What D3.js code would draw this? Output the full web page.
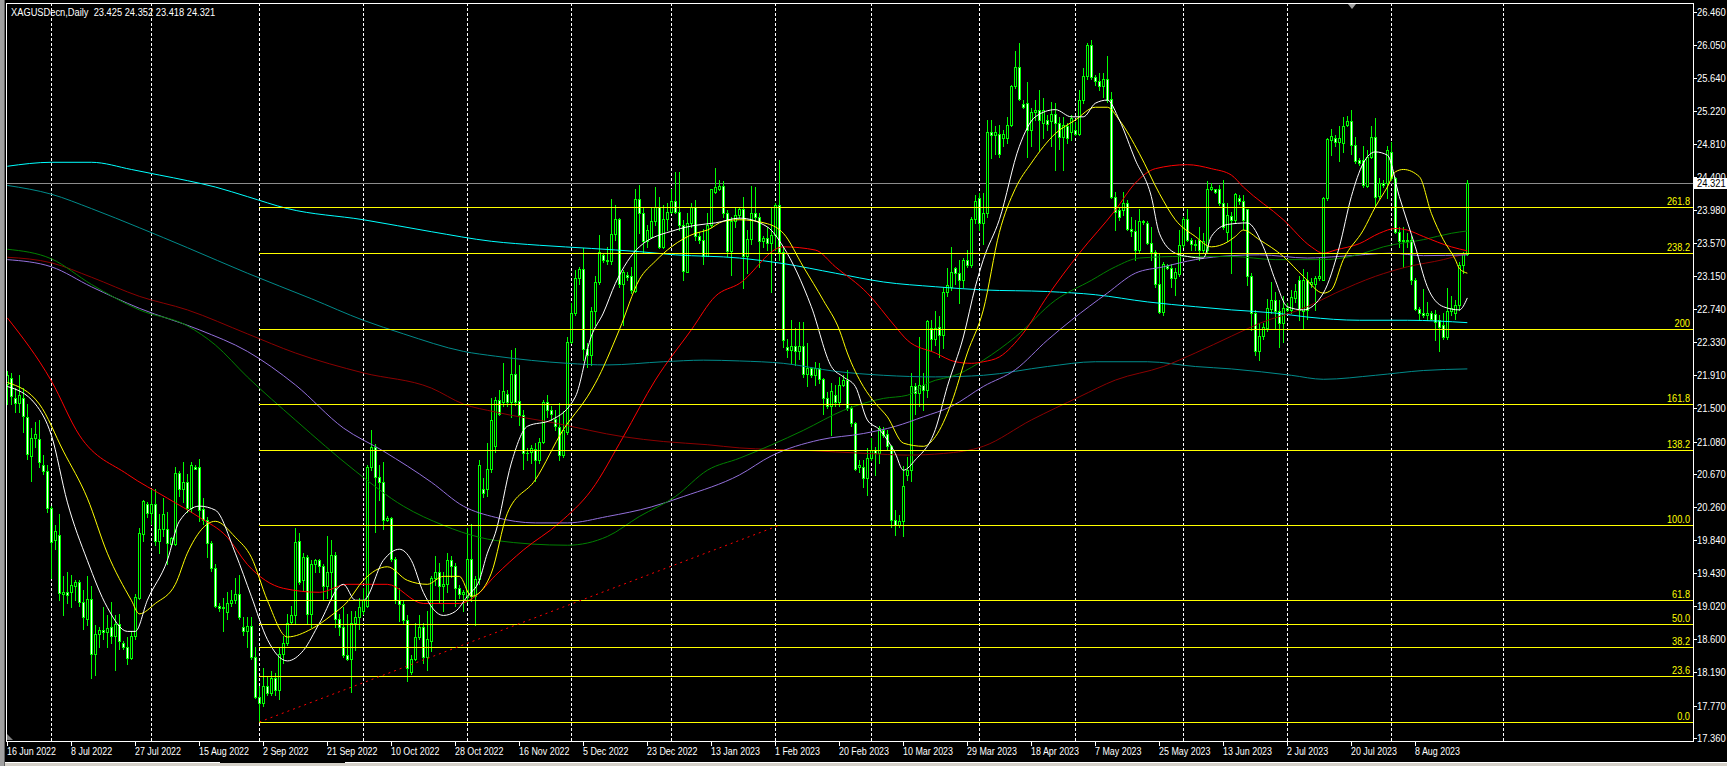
<!DOCTYPE html>
<html>
<head>
<meta charset="utf-8">
<title>XAGUSDecn,Daily</title>
<script src="https://d3js.org/d3.v7.min.js"></script>
<style>
  html, body { margin: 0; padding: 0; background: #000; overflow: hidden; }
  svg { display: block; font-family: 'Liberation Sans', Arial, sans-serif; }
</style>
</head>
<body>
<script>
'use strict';

(function() {

  const symbol = "XAGUSDecn,Daily";
  const lastQuote = ["23.425", "24.352", "23.418", "24.321"];
  const lastPrice = 24.321;

  // bar numbers (first visible bar = 1) where the date labels and month grid lines sit
  const labelBars = [1, 17, 33, 49, 65, 81, 97, 113, 129, 145, 161, 177, 193, 209, 225, 241, 257, 273, 289, 305, 321, 337, 353];
  const dateLabels = ["16 Jun 2022", "8 Jul 2022", "27 Jul 2022", "15 Aug 2022", "2 Sep 2022", "21 Sep 2022",
    "10 Oct 2022", "28 Oct 2022", "16 Nov 2022", "5 Dec 2022", "23 Dec 2022", "13 Jan 2023", "1 Feb 2023",
    "20 Feb 2023", "10 Mar 2023", "29 Mar 2023", "18 Apr 2023", "7 May 2023", "25 May 2023", "13 Jun 2023",
    "2 Jul 2023", "20 Jul 2023", "8 Aug 2023"];
  const gridBars = [12, 37, 64, 90, 116, 142, 167, 193, 217, 244, 268, 295, 321, 347, 375];

  const priceTicks = [26.460, 26.050, 25.640, 25.220, 24.810, 24.400, 23.980, 23.570, 23.150, 22.740, 22.330,
    21.910, 21.500, 21.080, 20.670, 20.260, 19.840, 19.430, 19.020, 18.600, 18.190, 17.770, 17.360];

  // fibonacci object: levels and the prices they sit on
  const fiboLabels = ["0.0", "23.6", "38.2", "50.0", "61.8", "100.0", "138.2", "161.8", "200", "238.2", "261.8"];
  const fiboPrices = [17.564, 18.146, 18.506, 18.797, 19.088, 20.030, 20.972, 21.554, 22.496, 23.438, 24.020];
  const fiboStartBar = 64;
  const trendLine = [[64, 17.564], [194, 20.030]];

  const barOpen = [
    21.80, 21.88, 21.62, 21.56, 21.63, 21.39, 20.90, 21.12, 21.11, 20.78,
    20.71, 20.25, 19.85, 19.91, 19.17, 19.19, 19.19, 19.27, 19.32, 19.07,
    18.86, 19.11, 18.42, 18.67, 18.72, 18.69, 18.75, 18.64, 18.79, 18.55,
    18.50, 18.37, 18.64, 19.12, 19.92, 20.30, 20.19, 20.30, 19.83, 19.98,
    19.98, 19.80, 19.80, 20.69, 20.48, 20.57, 20.25, 20.76, 20.76, 20.23,
    20.10, 19.81, 19.49, 19.02, 18.99, 18.94, 19.06, 19.09, 19.17, 18.76,
    18.71, 18.77, 18.38, 17.88, 17.80, 18.02, 17.93, 18.12, 17.96, 18.42,
    18.56, 18.82, 18.90, 19.83, 19.34, 19.63, 18.92, 19.54, 19.59, 19.52,
    19.27, 19.44, 19.66, 18.85, 18.76, 18.41, 18.35, 18.80, 18.88, 18.95,
    19.02, 20.76, 21.01, 20.64, 20.57, 20.10, 20.12, 19.61, 19.09, 19.04,
    18.84, 18.19, 18.36, 18.63, 18.75, 18.38, 18.58, 19.37, 19.45, 19.27,
    19.29, 19.59, 19.52, 19.24, 19.17, 19.13, 19.61, 19.14, 19.36, 20.49,
    20.49, 20.74, 21.02, 21.60, 21.58, 21.67, 21.58, 21.93, 21.59, 21.41,
    20.94, 20.95, 20.99, 20.85, 21.08, 21.57, 21.48, 21.36, 21.26, 20.91,
    21.20, 22.33, 22.69, 23.13, 23.24, 22.24, 22.17, 22.71, 23.08, 23.42,
    23.36, 23.34, 23.68, 23.87, 23.06, 23.17, 23.15, 22.97, 24.12, 23.94,
    23.59, 23.64, 23.84, 24.02, 23.52, 23.87, 23.96, 24.10, 23.96, 23.79,
    23.21, 23.82, 24.02, 23.65, 23.61, 23.41, 23.79, 24.21, 24.25, 24.28,
    23.94, 23.47, 23.85, 23.92, 24.00, 23.40, 23.62, 23.95, 23.90, 23.59,
    23.63, 23.57, 23.67, 24.05, 23.46, 22.26, 22.23, 22.28, 22.21, 22.28,
    21.93, 22.00, 21.91, 22.00, 21.86, 21.62, 21.52, 21.66, 21.58, 21.79,
    21.85, 21.50, 21.31, 20.76, 20.76, 20.62, 20.87, 20.97, 20.94, 21.23,
    21.18, 21.02, 20.10, 20.03, 20.08, 20.66, 20.72, 21.77, 21.69, 21.79,
    21.72, 22.50, 22.37, 22.52, 22.42, 22.96, 23.02, 23.25, 23.19, 23.11,
    23.35, 23.29, 23.87, 24.13, 23.82, 23.94, 24.96, 24.92, 24.93, 24.88,
    24.88, 25.05, 25.53, 25.78, 25.31, 25.32, 24.99, 25.21, 25.24, 25.07,
    25.11, 25.10, 25.19, 25.07, 24.90, 25.04, 24.96, 24.99, 24.94, 25.36,
    25.66, 26.05, 25.65, 25.60, 25.53, 25.63, 25.37, 24.15, 23.98, 23.98,
    24.07, 23.75, 23.72, 23.48, 23.84, 23.82, 23.57, 23.46, 23.06, 22.70,
    23.28, 23.25, 23.13, 23.18, 23.54, 23.87, 23.60, 23.56, 23.60, 23.48,
    23.48, 24.25, 24.24, 24.24, 24.07, 23.70, 23.91, 23.86, 24.13, 24.10,
    23.99, 23.15, 22.69, 22.22, 22.40, 22.50, 22.74, 22.85, 22.72, 22.57,
    22.75, 22.73, 22.88, 23.11, 22.72, 23.10, 23.05, 23.06, 23.13, 23.11,
    24.13, 24.86, 24.88, 24.83, 24.82, 25.05, 25.10, 24.80, 24.61, 24.61,
    24.28, 24.65, 24.90, 24.16, 24.32, 24.32, 24.71, 24.38, 23.71, 23.59,
    23.61, 23.61, 23.10, 22.74, 22.69, 22.67, 22.69, 22.68, 22.60, 22.54,
    22.39, 22.72, 22.69, 22.79, 23.29, 23.425];

  const barHigh = [
    21.96, 21.94, 21.75, 21.91, 21.75, 21.55, 21.25, 21.33, 21.35, 20.91,
    20.79, 20.27, 20.03, 20.17, 19.39, 19.45, 19.41, 19.34, 19.34, 19.22,
    19.39, 19.27, 18.78, 18.75, 19.00, 18.90, 19.07, 18.90, 18.92, 18.58,
    18.63, 18.70, 19.17, 20.00, 20.35, 20.32, 20.49, 20.49, 20.17, 20.37,
    20.20, 19.88, 20.76, 20.71, 20.82, 20.67, 20.82, 20.79, 20.86, 20.37,
    20.13, 19.83, 19.54, 19.05, 19.12, 19.19, 19.22, 19.37, 19.41, 18.88,
    18.88, 18.88, 18.51, 18.01, 18.24, 18.13, 18.20, 18.18, 18.51, 18.64,
    18.92, 19.02, 19.99, 19.93, 19.68, 19.66, 19.59, 19.61, 19.61, 19.54,
    19.90, 19.84, 19.69, 18.92, 19.00, 18.92, 18.95, 18.95, 19.12, 19.24,
    20.79, 21.23, 21.05, 20.79, 20.82, 20.15, 20.14, 19.63, 19.24, 19.08,
    18.90, 18.40, 18.80, 18.90, 18.80, 18.96, 19.40, 19.64, 19.56, 19.44,
    19.68, 19.64, 19.56, 19.28, 19.22, 19.99, 20.05, 19.40, 20.85, 20.62,
    21.06, 21.62, 21.64, 21.73, 22.06, 21.73, 22.23, 22.25, 22.04, 21.48,
    21.00, 21.04, 21.06, 21.12, 21.60, 21.66, 21.52, 21.48, 21.56, 21.46,
    22.39, 22.81, 23.23, 23.27, 23.50, 22.31, 22.77, 23.15, 23.67, 23.44,
    23.52, 24.12, 24.05, 23.88, 23.23, 23.21, 23.27, 24.24, 24.30, 24.02,
    23.79, 24.02, 24.27, 24.15, 24.05, 24.07, 24.25, 24.46, 24.46, 23.86,
    23.94, 24.07, 24.11, 23.71, 23.75, 23.94, 24.25, 24.51, 24.36, 24.34,
    23.98, 23.89, 24.02, 24.02, 24.15, 23.73, 24.28, 24.27, 23.94, 23.65,
    23.77, 24.02, 24.07, 24.61, 23.52, 22.37, 22.60, 22.50, 22.58, 22.58,
    22.31, 22.02, 22.08, 22.06, 21.87, 21.70, 21.81, 21.79, 21.89, 21.91,
    21.98, 21.52, 21.33, 20.85, 20.85, 21.00, 21.12, 21.01, 21.27, 21.26,
    21.22, 21.04, 20.22, 20.16, 20.77, 20.89, 21.94, 21.81, 22.39, 21.94,
    22.60, 22.60, 22.71, 22.65, 23.02, 23.25, 23.52, 23.27, 23.36, 23.38,
    23.48, 23.90, 24.17, 24.19, 24.19, 25.11, 25.11, 25.03, 25.05, 24.99,
    25.15, 25.55, 25.97, 26.07, 25.36, 25.59, 25.26, 25.36, 25.49, 25.38,
    25.17, 25.34, 25.32, 25.15, 25.15, 25.07, 25.17, 25.09, 25.49, 25.76,
    26.07, 26.11, 25.67, 25.70, 25.70, 25.91, 25.46, 24.21, 24.02, 24.21,
    24.11, 23.90, 23.86, 24.00, 23.86, 23.85, 23.77, 23.48, 23.44, 23.33,
    23.31, 23.31, 23.25, 23.73, 23.90, 24.00, 23.63, 23.61, 23.77, 23.69,
    24.34, 24.32, 24.25, 24.30, 24.36, 24.07, 23.96, 24.19, 24.17, 24.17,
    24.00, 23.19, 22.73, 22.56, 22.57, 22.87, 23.08, 22.96, 22.85, 22.90,
    22.81, 22.98, 23.06, 23.15, 23.24, 23.21, 23.13, 23.15, 23.38, 24.15,
    24.88, 25.00, 24.92, 25.03, 25.15, 25.16, 25.24, 24.90, 24.63, 24.78,
    24.73, 25.03, 25.13, 24.38, 24.36, 24.78, 24.84, 24.40, 23.77, 23.77,
    23.69, 23.65, 23.13, 22.77, 22.99, 22.83, 22.71, 22.73, 22.67, 22.69,
    23.00, 22.90, 22.86, 23.33, 23.46, 24.352];

  const barLow = [
    21.55, 21.55, 21.45, 21.45, 21.20, 20.86, 20.59, 21.01, 20.76, 20.67,
    20.20, 19.37, 19.73, 19.09, 18.90, 19.05, 19.00, 19.09, 19.02, 18.73,
    18.78, 18.11, 18.15, 18.51, 18.60, 18.51, 18.56, 18.21, 18.48, 18.48,
    18.29, 18.36, 18.60, 19.10, 19.83, 20.13, 20.05, 19.78, 19.68, 19.90,
    19.54, 19.78, 19.78, 20.40, 20.32, 20.20, 20.20, 20.73, 20.08, 20.05,
    19.63, 19.46, 19.00, 18.95, 18.70, 18.86, 19.02, 19.05, 18.85, 18.65,
    18.51, 18.36, 17.87, 17.56, 17.77, 17.90, 17.90, 17.90, 17.85, 18.30,
    18.53, 18.79, 18.80, 19.29, 19.22, 18.80, 18.75, 19.44, 19.44, 19.09,
    19.12, 19.09, 18.75, 18.65, 18.38, 18.34, 17.94, 18.47, 18.73, 18.92,
    19.00, 20.72, 19.95, 20.35, 19.98, 20.08, 19.58, 19.05, 18.83, 18.79,
    18.08, 18.17, 18.34, 18.60, 18.30, 18.22, 18.45, 19.28, 19.05, 18.95,
    19.20, 19.38, 19.02, 19.12, 18.95, 19.07, 19.08, 18.78, 19.30, 20.38,
    20.40, 20.70, 20.95, 21.41, 21.52, 21.52, 21.39, 21.54, 21.29, 20.74,
    20.85, 20.81, 20.58, 20.81, 21.06, 21.39, 21.35, 21.23, 20.85, 20.89,
    21.18, 22.31, 22.67, 23.06, 22.10, 22.02, 22.04, 22.54, 23.06, 23.33,
    23.31, 23.31, 23.60, 23.02, 22.54, 23.11, 22.94, 22.96, 23.69, 23.44,
    23.52, 23.63, 23.79, 23.51, 23.50, 23.73, 23.94, 23.94, 23.73, 23.11,
    23.20, 23.77, 23.61, 23.57, 23.31, 23.40, 23.77, 24.19, 24.23, 23.90,
    23.40, 23.17, 23.77, 23.88, 23.00, 23.19, 23.56, 23.86, 23.27, 23.52,
    23.48, 22.96, 23.48, 23.36, 22.27, 22.14, 22.06, 22.04, 22.12, 21.89,
    21.77, 21.89, 21.79, 21.81, 21.43, 21.50, 21.16, 21.52, 21.52, 21.77,
    21.47, 21.27, 20.72, 20.70, 20.51, 20.41, 20.85, 20.66, 20.81, 21.14,
    20.97, 20.01, 19.91, 20.01, 19.89, 20.60, 20.58, 21.43, 21.52, 21.47,
    21.64, 22.23, 22.29, 22.14, 22.25, 22.90, 22.98, 23.06, 22.81, 23.02,
    23.27, 23.27, 23.82, 23.73, 23.56, 23.90, 24.63, 24.69, 24.65, 24.78,
    24.82, 25.03, 25.51, 25.36, 25.26, 24.65, 24.78, 25.11, 24.73, 24.88,
    24.99, 24.78, 24.48, 24.75, 24.48, 24.82, 24.86, 24.92, 24.92, 25.32,
    25.63, 25.63, 25.55, 25.49, 25.40, 25.34, 24.13, 23.73, 23.86, 23.92,
    23.73, 23.65, 23.36, 23.44, 23.81, 23.56, 23.36, 23.02, 22.69, 22.67,
    23.24, 23.02, 22.92, 23.15, 23.52, 23.59, 23.48, 23.48, 23.36, 23.44,
    23.44, 24.23, 24.19, 24.05, 23.75, 23.59, 23.19, 23.82, 24.06, 23.75,
    23.04, 22.48, 22.16, 22.10, 22.37, 22.46, 22.69, 22.50, 22.27, 22.33,
    22.71, 22.69, 22.83, 22.60, 22.50, 22.62, 23.02, 22.73, 23.10, 23.10,
    24.11, 24.67, 24.78, 24.59, 24.71, 25.03, 24.69, 24.57, 24.55, 24.27,
    24.27, 24.63, 24.02, 24.13, 24.27, 24.13, 24.36, 23.69, 23.52, 23.27,
    23.52, 23.06, 22.73, 22.60, 22.645, 22.60, 22.60, 22.35, 22.21, 22.37,
    22.37, 22.67, 22.62, 22.73, 23.19, 23.418];

  const barClose = [
    21.92, 21.65, 21.56, 21.66, 21.40, 20.92, 21.12, 21.18, 20.82, 20.71,
    20.25, 19.82, 19.96, 19.18, 19.19, 19.16, 19.28, 19.32, 19.07, 18.88,
    19.11, 18.42, 18.67, 18.72, 18.69, 18.74, 18.64, 18.79, 18.58, 18.50,
    18.37, 18.64, 19.13, 19.93, 20.33, 20.19, 20.30, 19.83, 19.98, 20.17,
    19.81, 19.87, 20.69, 20.49, 20.57, 20.25, 20.79, 20.74, 20.22, 20.10,
    19.81, 19.49, 19.02, 18.99, 19.01, 19.06, 19.09, 19.17, 18.88, 18.71,
    18.77, 18.38, 17.88, 17.80, 18.02, 17.93, 18.12, 17.96, 18.42, 18.56,
    18.81, 18.91, 19.82, 19.32, 19.63, 18.92, 19.54, 19.59, 19.52, 19.27,
    19.44, 19.66, 18.85, 18.76, 18.41, 18.36, 18.80, 18.88, 19.01, 19.09,
    20.76, 21.01, 20.64, 20.57, 20.10, 20.12, 19.61, 19.09, 19.04, 18.84,
    18.24, 18.36, 18.63, 18.75, 18.38, 18.60, 19.37, 19.45, 19.27, 19.29,
    19.59, 19.52, 19.24, 19.17, 19.19, 19.61, 19.14, 19.36, 20.79, 20.43,
    20.74, 21.35, 21.60, 21.43, 21.71, 21.58, 21.93, 21.58, 21.41, 20.94,
    20.93, 21.00, 20.85, 21.08, 21.58, 21.48, 21.43, 21.27, 20.91, 21.22,
    22.33, 22.69, 23.13, 23.24, 22.24, 22.17, 22.71, 23.08, 23.46, 23.36,
    23.34, 23.68, 23.87, 23.06, 23.20, 23.14, 22.98, 24.12, 23.94, 23.59,
    23.73, 23.84, 24.02, 23.52, 23.87, 23.96, 24.10, 23.96, 23.79, 23.22,
    23.82, 24.02, 23.65, 23.61, 23.41, 23.79, 24.24, 24.27, 24.28, 23.94,
    23.47, 23.85, 23.92, 24.00, 23.40, 23.62, 23.95, 23.90, 23.59, 23.63,
    23.57, 23.67, 24.05, 23.46, 22.35, 22.23, 22.28, 22.21, 22.28, 21.93,
    22.00, 21.91, 22.00, 21.86, 21.62, 21.52, 21.71, 21.58, 21.79, 21.85,
    21.50, 21.31, 20.74, 20.78, 20.62, 20.87, 20.97, 20.93, 21.25, 21.16,
    21.02, 20.10, 20.03, 20.09, 20.52, 20.72, 21.77, 21.69, 21.79, 21.72,
    22.59, 22.37, 22.50, 22.42, 22.96, 23.04, 23.21, 23.19, 23.11, 23.35,
    23.29, 23.87, 24.09, 23.82, 23.94, 24.96, 24.92, 24.96, 24.69, 24.93,
    25.05, 25.53, 25.78, 25.37, 25.27, 24.99, 25.21, 25.24, 25.11, 25.24,
    25.06, 25.19, 25.07, 24.90, 25.05, 24.89, 25.14, 24.94, 25.36, 25.66,
    26.05, 25.65, 25.60, 25.53, 25.62, 25.36, 24.15, 23.96, 23.90, 24.07,
    23.75, 23.72, 23.48, 23.84, 23.83, 23.57, 23.46, 23.06, 22.70, 23.31,
    23.25, 23.13, 23.21, 23.54, 23.87, 23.61, 23.56, 23.54, 23.48, 23.59,
    24.25, 24.27, 24.21, 24.07, 23.77, 23.92, 23.86, 24.18, 24.10, 23.86,
    23.15, 22.69, 22.22, 22.40, 22.51, 22.75, 22.85, 22.72, 22.57, 22.75,
    22.73, 22.89, 22.97, 22.73, 23.11, 22.73, 23.08, 23.13, 23.16, 24.13,
    24.87, 24.91, 24.83, 24.88, 25.03, 25.10, 24.80, 24.59, 24.57, 24.30,
    24.65, 24.90, 24.15, 24.32, 24.30, 24.73, 24.38, 23.71, 23.59, 23.61,
    23.59, 23.10, 22.74, 22.69, 22.67, 22.69, 22.62, 22.58, 22.52, 22.39,
    22.72, 22.75, 22.79, 23.29, 23.44, 24.321];

  // moving averages as [bar, price]
  const maWhite = [[1,21.77],[8,21.55],[12,21.16],[16,20.32],[21,19.59],[26,19.00],[31,18.70],[33,18.70],[36,19.09],
    [41,19.59],[44,20.08],[49,20.27],[53,20.22],[58,19.68],[62,19.14],[66,18.60],[71,18.33],[75,18.46],[79,18.80],
    [85,19.29],[88,19.09],[90,19.09],[95,19.59],[99,19.73],[102,19.59],[105,19.19],[110,18.90],[113,18.95],[116,19.14],
    [119,19.34],[121,19.68],[123,19.93],[127,20.81],[131,21.27],[137,21.35],[143,21.64],[147,22.40],[150,22.69],
    [153,23.06],[159,23.52],[168,23.73],[173,23.79],[178,23.82],[184,23.88],[191,23.77],[195,23.52],[202,22.77],
    [207,22.02],[210,21.89],[213,21.77],[216,21.35],[219,21.23],[223,20.93],[225,20.72],[228,20.85],[233,21.23],
    [236,21.77],[240,22.39],[243,23.02],[245,23.36],[249,23.86],[254,24.78],[258,25.15],[263,25.24],[267,25.15],
    [270,25.15],[273,25.32],[276,25.36],[279,25.11],[283,24.61],[287,24.15],[289,23.69],[293,23.44],[296,23.40],
    [300,23.38],[302,23.65],[306,23.80],[311,23.82],[315,23.52],[318,23.10],[321,22.77],[325,22.73],[330,22.94],
    [334,23.52],[337,24.15],[340,24.57],[343,24.71],[346,24.67],[349,24.15],[353,23.52],[356,23.02],[360,22.77],
    [364,22.73],[366,22.88]];

  const maYellow = [[1,21.82],[9,21.55],[15,20.96],[21,20.37],[26,19.68],[32,19.09],[34,18.92],[38,19.05],[43,19.29],
    [46,19.68],[53,20.08],[58,19.88],[62,19.63],[66,19.09],[71,18.63],[77,18.73],[82,18.90],[86,19.07],[90,19.34],
    [96,19.51],[101,19.34],[106,19.29],[110,19.39],[114,19.39],[117,19.14],[120,19.24],[122,19.43],[126,20.18],
    [133,20.60],[140,21.23],[146,21.64],[148,21.81],[154,22.48],[159,23.11],[163,23.34],[167,23.52],[173,23.69],
    [176,23.73],[180,23.84],[184,23.86],[191,23.81],[195,23.69],[200,23.27],[205,22.85],[209,22.48],[211,22.19],
    [215,21.77],[218,21.56],[221,21.39],[225,21.06],[230,21.02],[233,21.14],[237,21.56],[241,22.19],[245,22.73],
    [249,23.70],[253,24.25],[257,24.57],[263,24.94],[268,25.11],[273,25.27],[276,25.27],[279,25.11],[284,24.69],
    [289,24.19],[293,23.86],[298,23.65],[302,23.52],[306,23.58],[308,23.65],[310,23.73],[314,23.61],[320,23.40],
    [325,23.15],[330,22.94],[332,22.98],[335,23.36],[340,23.73],[343,24.02],[346,24.27],[348,24.46],[350,24.49],
    [354,24.40],[357,23.94],[360,23.61],[363,23.36],[364,23.25],[366,23.19]];

  const maRed = [[1,22.63],[12,21.84],[19,21.16],[31,20.67],[41,20.37],[49,20.13],[56,19.88],[61,19.54],[70,19.24],
    [79,19.19],[86,19.29],[96,19.29],[105,19.05],[114,19.05],[118,19.14],[123,19.40],[130,19.72],[139,20.06],
    [147,20.47],[155,21.14],[163,21.85],[172,22.48],[178,22.90],[184,23.06],[195,23.52],[203,23.48],[208,23.27],
    [216,22.94],[223,22.52],[226,22.35],[233,22.19],[238,22.08],[242,22.06],[245,22.08],[249,22.14],[255,22.44],
    [261,22.90],[269,23.44],[278,23.98],[283,24.32],[288,24.50],[296,24.55],[302,24.50],[307,24.42],[310,24.27],
    [320,23.86],[327,23.52],[330,23.44],[333,23.48],[339,23.56],[344,23.69],[348,23.75],[351,23.73],[355,23.65],
    [362,23.52],[366,23.47]];

  const maGreen = [[1,23.49],[12,23.37],[22,23.05],[34,22.73],[46,22.53],[53,22.29],[61,21.89],[73,21.35],[88,20.71],
    [100,20.27],[110,20.03],[119,19.88],[123,19.84],[141,19.78],[151,19.89],[159,20.14],[168,20.39],[176,20.72],
    [184,20.87],[200,21.22],[210,21.47],[220,21.62],[226,21.66],[231,21.81],[239,21.93],[245,22.10],[253,22.39],
    [263,22.85],[272,23.10],[278,23.27],[284,23.38],[295,23.40],[307,23.40],[318,23.36],[330,23.36],[340,23.44],
    [345,23.52],[355,23.61],[362,23.69],[366,23.72]];

  const maPurple = [[1,23.36],[12,23.27],[22,23.02],[34,22.75],[49,22.48],[61,22.21],[73,21.79],[85,21.25],[95,20.96],
    [107,20.57],[115,20.27],[123,20.13],[133,20.06],[141,20.06],[151,20.14],[162,20.26],[170,20.39],[184,20.66],
    [192,20.90],[204,21.10],[215,21.18],[223,21.27],[230,21.39],[237,21.52],[245,21.77],[253,21.98],[261,22.35],
    [267,22.60],[276,22.94],[283,23.19],[290,23.27],[298,23.36],[307,23.41],[314,23.42],[326,23.38],[334,23.40],
    [347,23.44],[355,23.41],[366,23.42]];

  const maMaroon = [[1,23.39],[12,23.32],[22,23.14],[34,22.90],[46,22.73],[61,22.43],[73,22.19],[90,21.94],[107,21.75],
    [115,21.55],[123,21.45],[138,21.31],[155,21.14],[165,21.08],[176,21.04],[184,21.00],[200,20.97],[216,20.93],
    [226,20.91],[235,20.93],[245,21.02],[257,21.35],[269,21.64],[278,21.85],[290,22.02],[298,22.19],[307,22.40],
    [314,22.56],[326,22.77],[333,22.94],[343,23.15],[351,23.27],[360,23.36],[366,23.44]];

  const maTeal = [[1,24.29],[12,24.18],[22,24.00],[34,23.76],[46,23.51],[61,23.19],[77,22.87],[90,22.60],[100,22.43],
    [115,22.21],[123,22.15],[141,22.06],[151,22.04],[165,22.08],[175,22.10],[184,22.09],[195,22.06],[208,21.96],
    [220,21.91],[233,21.89],[245,21.91],[261,22.02],[273,22.08],[286,22.08],[298,22.02],[307,21.99],[322,21.91],
    [330,21.86],[343,21.91],[355,21.97],[366,21.99]];

  const maCyan = [[1,24.53],[12,24.58],[22,24.58],[32,24.49],[39,24.42],[46,24.35],[53,24.27],[61,24.15],[71,24.00],
    [90,23.86],[107,23.71],[122,23.59],[134,23.54],[147,23.50],[159,23.46],[168,23.42],[184,23.38],[195,23.31],
    [208,23.19],[220,23.08],[233,23.02],[245,22.98],[261,22.96],[273,22.92],[286,22.83],[298,22.77],[307,22.73],
    [318,22.69],[326,22.64],[339,22.60],[351,22.60],[366,22.57]];

  const W = 1727, H = 766;
  const plot = { left: 6, right: 1693, top: 3, bottom: 741 };

  let svg = "";
  let chart = "";

  window.onload = function() {
    svg = d3.select('body')
      .append('svg')
      .attr('width', W)
      .attr('height', H);

    let x = d3.scaleLinear()
      .domain([1, 366])
      .range([7.33, 1467.33]);
    let y = d3.scaleLinear()
      .domain([17.36, 26.46])
      .range([738.3, 12.3]);

    drawFrame();

    svg.append('clipPath')
      .attr('id', 'plotClip')
      .append('rect')
      .attr('x', plot.left + 1)
      .attr('y', plot.top + 1)
      .attr('width', plot.right - plot.left - 1)
      .attr('height', plot.bottom - plot.top - 1);

    chart = svg.append('g').attr('clip-path', 'url(#plotClip)');

    drawGrid(x, y);
    plotCandles(x, y);
    drawAverages(x, y);
    drawFibo(x, y);
    drawAxes(x, y);
    makeLabels();
  }

  // squeeze text horizontally, the terminal font is narrower than ours
  function condense(sel, factor) {
    sel.each(function() {
      let w = this.getComputedTextLength();
      d3.select(this)
        .attr('textLength', (w * factor).toFixed(1))
        .attr('lengthAdjust', 'spacingAndGlyphs');
    });
  }

  function drawFrame() {
    svg.append('rect')
      .attr('width', W).attr('height', H)
      .attr('fill', '#000');
    // window edge on the left
    svg.append('rect')
      .attr('x', 0).attr('y', 0).attr('width', 4).attr('height', H)
      .attr('fill', '#a0a0a0');
    svg.append('rect')
      .attr('x', 4).attr('y', 0).attr('width', 1).attr('height', H)
      .attr('fill', '#606060');

    let border = [
      [plot.left, plot.top + 0.5, plot.right, plot.top + 0.5],
      [plot.left + 0.5, plot.top, plot.left + 0.5, plot.bottom],
      [plot.left, plot.bottom + 0.5, plot.right + 1, plot.bottom + 0.5],
      [plot.right + 0.5, plot.top, plot.right + 0.5, plot.bottom + 1]
    ];
    svg.selectAll('.border')
      .data(border)
      .enter()
      .append('line')
      .attr('x1', d => d[0]).attr('y1', d => d[1])
      .attr('x2', d => d[2]).attr('y2', d => d[3])
      .attr('stroke', '#ffffff')
      .attr('stroke-width', 1);

    // tab strip at the very bottom
    svg.append('rect')
      .attr('x', 5).attr('y', 762).attr('width', W - 5).attr('height', 4)
      .attr('fill', '#d4d0c8');
    svg.append('line')
      .attr('x1', 5).attr('x2', W).attr('y1', 762.5).attr('y2', 762.5)
      .attr('stroke', '#ffffff');
    svg.append('line')
      .attr('x1', 220).attr('x2', 345).attr('y1', 762.5).attr('y2', 762.5)
      .attr('stroke', '#000000');
  }

  function drawGrid(x, y) {
    chart.selectAll('.grid')
      .data(gridBars)
      .enter()
      .append('line')
      .attr('x1', d => Math.round(x(d)) + 0.5)
      .attr('x2', d => Math.round(x(d)) + 0.5)
      .attr('y1', plot.top)
      .attr('y2', plot.bottom)
      .attr('stroke', '#ffffff')
      .attr('stroke-dasharray', '3,2')
      .attr('stroke-width', 1);

    // bid line
    chart.append('line')
      .attr('x1', plot.left).attr('x2', plot.right)
      .attr('y1', Math.round(y(lastPrice)) + 0.5)
      .attr('y2', Math.round(y(lastPrice)) + 0.5)
      .attr('stroke', '#8c8c8c');
  }

  // candles: lime outline, black body when up, white body when down
  function plotCandles(x, y) {
    let bars = barClose.map((c, k) => ({
      i: k + 1, o: barOpen[k], h: barHigh[k], l: barLow[k], c: c
    }));

    let g = chart.append('g').attr('shape-rendering', 'crispEdges');
    let bar = g.selectAll('.bar')
      .data(bars)
      .enter()
      .append('g');

    bar.append('rect')
      .attr('x', d => Math.round(x(d.i)))
      .attr('y', d => Math.round(y(d.h)))
      .attr('width', 1)
      .attr('height', d => Math.max(1, Math.round(y(d.l)) - Math.round(y(d.h)) + 1))
      .attr('fill', '#00ff00');

    bar.append('rect')
      .attr('x', d => Math.round(x(d.i)) - 1)
      .attr('y', d => Math.round(y(Math.max(d.o, d.c))))
      .attr('width', 3)
      .attr('height', d => Math.max(1, Math.round(y(Math.min(d.o, d.c))) - Math.round(y(Math.max(d.o, d.c))) + 1))
      .attr('fill', '#00ff00');

    bar.filter(d => Math.round(y(Math.min(d.o, d.c))) - Math.round(y(Math.max(d.o, d.c))) >= 2)
      .append('rect')
      .attr('x', d => Math.round(x(d.i)))
      .attr('y', d => Math.round(y(Math.max(d.o, d.c))) + 1)
      .attr('width', 1)
      .attr('height', d => Math.round(y(Math.min(d.o, d.c))) - Math.round(y(Math.max(d.o, d.c))) - 1)
      .attr('fill', d => d.c >= d.o ? '#000000' : '#ffffff');
  }

  function drawAverages(x, y) {
    let line = d3.line()
      .x(d => x(d[0]))
      .y(d => y(d[1]))
      .curve(d3.curveMonotoneX);

    let series = [
      { data: maCyan, color: '#00ffff' },
      { data: maTeal, color: '#008b8b' },
      { data: maMaroon, color: '#8b0000' },
      { data: maPurple, color: '#9370db' },
      { data: maGreen, color: '#008000' },
      { data: maRed, color: '#ff0000' },
      { data: maYellow, color: '#ffff00' },
      { data: maWhite, color: '#ffffff' }
    ];

    chart.selectAll('.ma')
      .data(series)
      .enter()
      .append('path')
      .attr('d', d => line(d.data))
      .attr('fill', 'none')
      .attr('stroke', d => d.color)
      .attr('stroke-width', 1);
  }

  function drawFibo(x, y) {
    let x0 = Math.round(x(fiboStartBar));
    chart.selectAll('.fibo')
      .data(fiboPrices)
      .enter()
      .append('line')
      .attr('x1', x0)
      .attr('x2', plot.right)
      .attr('y1', d => Math.round(y(d)) + 0.5)
      .attr('y2', d => Math.round(y(d)) + 0.5)
      .attr('stroke', '#ffff00')
      .attr('stroke-width', 1);

    let labels = chart.selectAll('.fiboText')
      .data(fiboPrices)
      .enter()
      .append('text')
      .attr('x', plot.right - 3)
      .attr('y', d => Math.round(y(d)) - 2)
      .attr('text-anchor', 'end')
      .style('font-size', '10px')
      .attr('fill', '#ffff00')
      .text((d, k) => fiboLabels[k]);
    condense(labels, 0.92);

    chart.append('line')
      .attr('x1', x(trendLine[0][0])).attr('y1', y(trendLine[0][1]))
      .attr('x2', x(trendLine[1][0])).attr('y2', y(trendLine[1][1]))
      .attr('stroke', '#ff0000')
      .attr('stroke-dasharray', '2,4')
      .attr('stroke-width', 1);
  }

  function drawAxes(x, y) {
    // price scale on the right
    let ticks = svg.append('g');
    ticks.selectAll('line')
      .data(priceTicks)
      .enter()
      .append('line')
      .attr('x1', plot.right + 1).attr('x2', plot.right + 4)
      .attr('y1', d => Math.round(y(d)) + 0.5)
      .attr('y2', d => Math.round(y(d)) + 0.5)
      .attr('stroke', '#ffffff');
    let tickText = ticks.selectAll('text')
      .data(priceTicks)
      .enter()
      .append('text')
      .attr('x', plot.right + 4)
      .attr('y', d => Math.round(y(d)) + 4)
      .style('font-size', '10px')
      .attr('fill', '#ffffff')
      .text(d => d.toFixed(3));
    condense(tickText, 0.94);

    let py = Math.round(y(lastPrice));
    svg.append('rect')
      .attr('x', plot.right + 1).attr('y', py - 5)
      .attr('width', W - plot.right - 1).attr('height', 11)
      .attr('fill', '#ffffff');
    let bidText = svg.append('text')
      .attr('x', plot.right + 4)
      .attr('y', py + 4)
      .style('font-size', '10px')
      .attr('fill', '#000000')
      .text(lastPrice.toFixed(3));
    condense(bidText, 0.94);

    // date scale at the bottom
    let dates = svg.append('g');
    dates.selectAll('line')
      .data(labelBars)
      .enter()
      .append('line')
      .attr('x1', d => Math.round(x(d)) + 0.5)
      .attr('x2', d => Math.round(x(d)) + 0.5)
      .attr('y1', plot.bottom + 1)
      .attr('y2', plot.bottom + 5)
      .attr('stroke', '#ffffff');
    let dateText = dates.selectAll('text')
      .data(labelBars)
      .enter()
      .append('text')
      .attr('x', d => Math.round(x(d)))
      .attr('y', 755)
      .style('font-size', '10px')
      .attr('fill', '#ffffff')
      .text((d, k) => dateLabels[k]);
    condense(dateText, 0.89);
  }

  function makeLabels() {
    let title = svg.append('text')
      .attr('x', 11)
      .attr('y', 16)
      .style('font-size', '10px')
      .style('white-space', 'pre')
      .attr('fill', '#ffffff')
      .text(symbol + "  " + lastQuote.join(" "));
    condense(title, 0.93);

    // chart shift marker and corner mark
    svg.append('path')
      .attr('d', 'M1348,4 L1356,4 L1352,9 Z')
      .attr('fill', '#a0a0a0');
    svg.append('path')
      .attr('d', 'M7,740 L7,734 L13,740 Z')
      .attr('fill', '#808080');
  }
})();
</script>
</body>
</html>
